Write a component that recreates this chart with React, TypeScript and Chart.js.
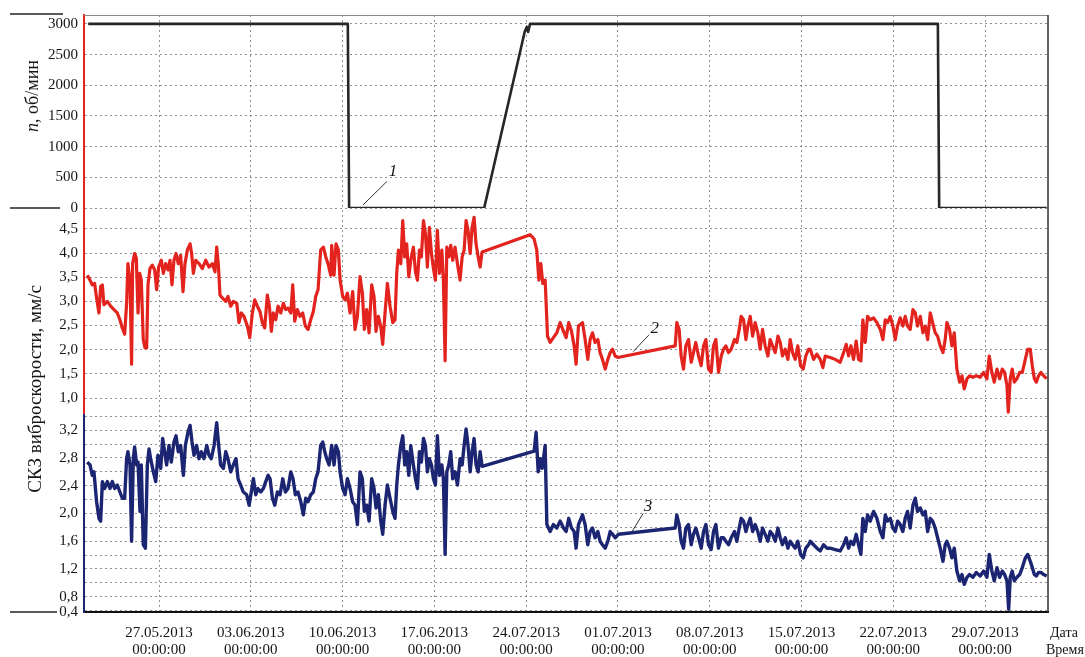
import React, { useEffect, useRef } from 'react';
import { Chart, registerables } from 'chart.js';

Chart.register(...registerables);

const SERIF = '"Liberation Serif", "DejaVu Serif", "Times New Roman", serif';

// ---- X axis (days counted from 27.05.2013 00:00:00) ----
const xMin = -5.72;
const xMax = 67.8;
const weekTicks = [0, 7, 14, 21, 28, 35, 42, 49, 56, 63];
const weekLabels = ['27.05.2013', '03.06.2013', '10.06.2013', '17.06.2013', '24.07.2013', '01.07.2013', '08.07.2013', '15.07.2013', '22.07.2013', '29.07.2013'];
const timeLabel = '00:00:00';

// ---- Y axes ----
const rpmTicks = [0, 500, 1000, 1500, 2000, 2500, 3000];
const redTicks = [1.0, 1.5, 2.0, 2.5, 3.0, 3.5, 4.0, 4.5];
const blueGridTicks = [0.6, 0.8, 1.0, 1.2, 1.4, 1.6, 1.8, 2.0, 2.2, 2.4, 2.6, 2.8, 3.0, 3.2, 3.4];
const blueLabelTicks = [0.8, 1.2, 1.6, 2.0, 2.4, 2.8, 3.2];
const blueBottomLabel = '0,4';

// ---- Series: [day, value] ----
const rpmSeries: [number, number][] = [
  [-5.4, 3000], [14.4, 3000], [14.5, 0], [24.8, 0], [27.9, 2880], [28.05, 2950], [28.15, 2870], [28.3, 3000],
  [59.4, 3000], [59.5, 0], [67.7, 0],
];

const redSeries: [number, number][] = [
  [-5.47, 3.54], [-5.26, 3.44], [-5.09, 3.34], [-4.91, 3.37], [-4.76, 3.07], [-4.58, 2.76], [-4.45, 3.31], [-4.32, 3.34], [-4.20, 2.93], [-3.94, 3.00], [-3.69, 2.90], [-3.43, 2.83], [-3.18, 2.76], [-2.98, 2.62], [-2.80, 2.45], [-2.62, 2.32], [-2.47, 2.96], [-2.37, 3.78], [-2.21, 3.44], [-2.09, 1.70], [-2.01, 3.78], [-1.86, 3.99], [-1.73, 3.89], [-1.60, 2.76], [-1.47, 3.58], [-1.35, 3.44], [-1.20, 2.21], [-1.07, 2.04], [-0.94, 2.04], [-0.84, 3.34], [-0.69, 3.68], [-0.51, 3.75], [-0.33, 3.65], [-0.18, 3.24], [-0.03, 3.71], [0.18, 3.85], [0.33, 3.58], [0.51, 3.78], [0.69, 3.65], [0.84, 3.85], [0.99, 3.34], [1.14, 3.85], [1.30, 3.99], [1.47, 3.78], [1.65, 3.95], [1.83, 3.20], [1.98, 3.78], [2.16, 4.06], [2.37, 4.19], [2.49, 3.99], [2.62, 3.58], [2.80, 3.85], [3.05, 3.78], [3.31, 3.68], [3.56, 3.85], [3.81, 3.71], [4.07, 3.78], [4.27, 3.61], [4.40, 4.12], [4.53, 3.75], [4.65, 3.13], [4.83, 3.07], [5.09, 3.00], [5.26, 3.10], [5.47, 2.90], [5.67, 3.00], [5.93, 2.96], [6.10, 2.56], [6.28, 2.76], [6.48, 2.69], [6.74, 2.49], [6.92, 2.25], [7.12, 2.76], [7.30, 3.03], [7.50, 2.90], [7.70, 2.79], [7.88, 2.56], [8.06, 2.45], [8.26, 3.13], [8.42, 2.90], [8.57, 2.38], [8.72, 2.76], [8.90, 2.62], [9.08, 2.90], [9.28, 2.76], [9.49, 2.96], [9.66, 2.83], [9.84, 2.86], [10.05, 2.76], [10.20, 3.34], [10.35, 2.59], [10.55, 2.83], [10.76, 2.69], [10.96, 2.76], [11.16, 2.49], [11.37, 2.42], [11.57, 2.62], [11.77, 2.79], [11.95, 3.10], [12.13, 3.24], [12.33, 4.06], [12.54, 4.12], [12.71, 3.93], [12.89, 3.78], [13.10, 3.54],
  [13.17, 4.16], [13.35, 3.54], [13.50, 4.19], [13.68, 4.06], [13.81, 3.44], [14.01, 3.10], [14.19, 3.03], [14.37, 3.17], [14.57, 2.76], [14.77, 3.20], [14.95, 2.42], [15.13, 2.69], [15.33, 3.51], [15.51, 3.17], [15.66, 2.42], [15.84, 2.83], [16.02, 2.35], [16.22, 3.34], [16.40, 3.10], [16.55, 2.38], [16.73, 2.69], [16.91, 2.49], [17.06, 2.11], [17.24, 2.76], [17.42, 3.37], [17.62, 2.90], [17.83, 2.56], [18.00, 2.62], [18.13, 3.58], [18.26, 4.06], [18.44, 3.78], [18.59, 4.67], [18.74, 3.92], [18.89, 4.19], [19.05, 3.51], [19.20, 3.85], [19.40, 4.12], [19.56, 3.61], [19.71, 3.44], [19.86, 4.06], [20.01, 3.92], [20.17, 4.67], [20.32, 4.40], [20.47, 3.71], [20.62, 4.53], [20.78, 3.99], [20.93, 3.68], [21.08, 3.44], [21.23, 4.47], [21.39, 3.58], [21.57, 4.06], [21.69, 3.44], [21.82, 1.77], [21.95, 4.12], [22.10, 3.92], [22.25, 4.16], [22.40, 3.85], [22.58, 4.12], [22.76, 3.78], [22.96, 3.44], [23.12, 3.92], [23.27, 4.06], [23.42, 4.67], [23.57, 4.47], [23.73, 3.99], [23.88, 4.53], [24.03, 4.74], [24.18, 4.19], [24.34, 3.92], [24.49, 3.71], [24.64, 4.02], [28.30, 4.38], [28.61, 4.29], [28.81, 4.06], [28.97, 3.44], [29.12, 3.78], [29.27, 3.37], [29.45, 3.44], [29.63, 2.28], [29.83, 2.15], [30.08, 2.25], [30.34, 2.35], [30.59, 2.56], [30.85, 2.38], [31.05, 2.25], [31.25, 2.56], [31.46, 2.38], [31.66, 2.08], [31.81, 1.70], [31.99, 2.49],
  [32.30, 2.56], [32.50, 2.21], [32.70, 1.80], [32.88, 2.21], [33.06, 2.35], [33.26, 2.15], [33.47, 2.21], [33.64, 1.94], [33.82, 1.80], [34.03, 1.60], [34.23, 1.80], [34.41, 1.94], [34.59, 2.01], [34.79, 1.87], [34.99, 1.84], [39.37, 2.08], [39.49, 2.56], [39.67, 2.42], [39.82, 1.87], [40.00, 1.60], [40.18, 2.08], [40.38, 2.21], [40.59, 1.74], [40.76, 1.94], [40.94, 2.15], [41.15, 1.87], [41.35, 1.67], [41.53, 2.08], [41.71, 2.21], [41.91, 1.60], [42.11, 1.53], [42.29, 2.08], [42.47, 2.21], [42.67, 1.53], [42.88, 1.87], [43.05, 2.01], [43.23, 2.08], [43.44, 1.94], [43.64, 2.01], [43.89, 2.21], [44.07, 2.15], [44.25, 2.42], [44.40, 2.69], [44.58, 2.62], [44.76, 2.21], [44.91, 2.49], [45.09, 2.69], [45.27, 2.28], [45.47, 2.56], [45.67, 2.35], [45.85, 2.01], [46.03, 2.42], [46.23, 2.08], [46.44, 1.87], [46.61, 2.21], [46.79, 2.08], [47.00, 1.94], [47.20, 2.28], [47.38, 2.15], [47.55, 1.87], [47.76, 2.01], [47.96, 1.80], [48.14, 2.21], [48.32, 1.94], [48.52, 1.80], [48.72, 2.08], [48.93, 1.67], [49.13, 1.60], [49.33, 1.87], [49.54, 2.01],
  [49.67, 2.01], [49.92, 1.80], [50.17, 1.91], [50.43, 1.80], [50.63, 1.63], [50.81, 1.87], [51.19, 1.84], [51.57, 1.80], [51.95, 1.74], [52.21, 1.94], [52.41, 2.11], [52.59, 1.87], [52.77, 2.08], [52.97, 1.80], [53.17, 2.18], [53.35, 1.80], [53.53, 1.77], [53.68, 2.62], [53.86, 2.15], [54.04, 2.69], [54.24, 2.62], [54.50, 2.66], [54.75, 2.56], [55.01, 2.42], [55.21, 2.21], [55.39, 2.62], [55.56, 2.56], [55.77, 2.69], [55.97, 2.49], [56.15, 2.21], [56.33, 2.49], [56.53, 2.66], [56.73, 2.49], [56.91, 2.69], [57.09, 2.49], [57.29, 2.42], [57.50, 2.83], [57.68, 2.76], [57.85, 2.49], [58.06, 2.69], [58.26, 2.35], [58.44, 2.49], [58.62, 2.21], [58.82, 2.76], [59.00, 2.56], [59.20, 2.35], [59.38, 2.28], [59.58, 2.08], [59.79, 1.94], [59.96, 2.21], [60.09, 2.56], [60.29, 2.42], [60.47, 2.08], [60.65, 2.35], [60.85, 1.60], [61.06, 1.33], [61.24, 1.46], [61.41, 1.19], [61.62, 1.40], [61.82, 1.46], [62.07, 1.43], [62.33, 1.46], [62.63, 1.43], [62.89, 1.53], [63.14, 1.40], [63.32, 1.87], [63.52, 1.53], [63.70, 1.33], [63.91, 1.60], [64.11, 1.40], [64.31, 1.60], [64.49, 1.53], [64.67, 1.26], [64.77, 0.71], [64.92, 1.40], [65.07, 1.60], [65.23, 1.33], [65.43, 1.40], [65.64, 1.53], [65.84, 1.53], [66.07, 1.80], [66.25, 2.01], [66.45, 2.01], [66.60, 1.67], [66.76, 1.40], [66.91, 1.33], [67.08, 1.46], [67.26, 1.53], [67.47, 1.46], [67.70, 1.40],
];

const blueSeries: [number, number][] = [
  [-5.47, 2.74], [-5.26, 2.70], [-5.09, 2.55], [-4.96, 2.60], [-4.76, 2.17], [-4.58, 1.93], [-4.45, 1.89], [-4.32, 2.46], [-4.15, 2.36], [-3.94, 2.46], [-3.74, 2.36], [-3.56, 2.46], [-3.38, 2.36], [-3.18, 2.41], [-2.98, 2.31], [-2.80, 2.22], [-2.62, 2.22], [-2.47, 2.79], [-2.37, 2.89], [-2.21, 2.70], [-2.09, 1.60], [-1.96, 2.79], [-1.86, 2.96], [-1.70, 2.70], [-1.60, 2.74], [-1.45, 2.03], [-1.35, 2.70], [-1.20, 1.55], [-1.04, 1.50], [-0.89, 2.70], [-0.76, 2.93], [-0.64, 2.79], [-0.43, 2.60], [-0.25, 2.46], [-0.08, 2.84], [0.13, 2.65], [0.28, 3.08], [0.43, 2.89], [0.58, 2.70], [0.76, 2.98], [0.94, 2.74], [1.14, 3.03], [1.30, 3.12], [1.47, 2.89], [1.65, 2.98], [1.86, 2.55], [2.01, 2.98], [2.21, 3.17], [2.37, 3.27], [2.52, 3.03], [2.67, 2.84], [2.87, 2.98], [3.05, 2.79], [3.23, 2.89], [3.43, 2.79], [3.64, 2.98], [3.81, 2.84], [3.99, 2.79], [4.20, 2.98], [4.40, 3.31], [4.55, 2.98], [4.70, 2.70], [4.91, 2.65], [5.09, 2.89], [5.26, 2.79], [5.47, 2.60], [5.67, 2.70], [5.87, 2.79], [6.03, 2.50], [6.23, 2.41], [6.43, 2.31], [6.69, 2.27], [6.87, 2.12], [7.04, 2.31], [7.20, 2.50], [7.38, 2.27], [7.55, 2.36], [7.76, 2.31], [7.96, 2.36], [8.14, 2.46], [8.32, 2.55], [8.47, 2.50], [8.65, 2.22], [8.83, 2.12], [9.03, 2.31], [9.23, 2.27], [9.44, 2.50], [9.64, 2.31], [9.84, 2.36], [10.05, 2.60], [10.22, 2.50], [10.40, 2.27], [10.60, 2.31], [10.81, 2.17], [11.01, 1.98], [11.19, 2.22], [11.37, 2.17], [11.57, 2.27], [11.77, 2.31], [11.95, 2.50], [12.13, 2.60], [12.33, 2.98], [12.49, 3.03], [12.64, 2.89], [12.79, 2.79], [12.97, 2.70],
  [13.17, 2.98], [13.35, 2.70], [13.50, 2.98], [13.68, 2.89], [13.81, 2.60], [14.01, 2.36], [14.19, 2.27], [14.37, 2.50], [14.57, 2.36], [14.77, 2.17], [14.95, 2.12], [15.13, 1.84], [15.33, 2.60], [15.51, 2.50], [15.66, 2.03], [15.84, 2.12], [16.02, 1.89], [16.22, 2.50], [16.40, 2.36], [16.55, 2.08], [16.73, 2.27], [16.91, 1.89], [17.06, 1.70], [17.24, 2.12], [17.42, 2.41], [17.62, 2.22], [17.83, 2.03], [18.00, 1.93], [18.13, 2.41], [18.26, 2.70], [18.44, 2.98], [18.59, 3.12], [18.74, 2.70], [18.89, 2.89], [19.05, 2.55], [19.20, 2.98], [19.40, 2.70], [19.56, 2.50], [19.71, 2.36], [19.86, 2.89], [20.01, 2.74], [20.17, 3.08], [20.32, 2.98], [20.47, 2.60], [20.62, 2.79], [20.78, 2.70], [20.93, 2.50], [21.08, 2.41], [21.23, 3.12], [21.39, 2.55], [21.57, 2.70], [21.69, 2.50], [21.82, 1.41], [21.95, 2.60], [22.10, 2.70], [22.25, 2.89], [22.40, 2.50], [22.58, 2.60], [22.76, 2.41], [22.96, 2.79], [23.12, 2.70], [23.27, 2.98], [23.42, 3.22], [23.57, 2.98], [23.73, 2.60], [23.88, 2.89], [24.03, 3.08], [24.18, 2.70], [24.34, 2.60], [24.49, 2.89], [24.64, 2.68], [28.61, 2.90], [28.76, 3.17], [28.92, 2.60], [29.07, 2.79], [29.22, 2.65], [29.45, 2.98], [29.58, 1.84], [29.83, 1.74], [30.08, 1.84], [30.34, 1.79], [30.59, 1.89], [30.85, 1.79], [31.05, 1.74], [31.25, 1.93], [31.46, 1.79], [31.66, 1.74], [31.81, 1.50], [31.99, 1.84],
  [32.30, 1.98], [32.50, 1.84], [32.70, 1.55], [32.88, 1.74], [33.06, 1.79], [33.26, 1.65], [33.47, 1.74], [33.64, 1.60], [33.82, 1.55], [34.03, 1.50], [34.23, 1.60], [34.41, 1.74], [34.59, 1.70], [34.79, 1.65], [35.04, 1.70], [39.37, 1.79], [39.49, 1.98], [39.67, 1.84], [39.82, 1.60], [40.00, 1.50], [40.18, 1.79], [40.38, 1.84], [40.59, 1.55], [40.76, 1.70], [40.94, 1.79], [41.15, 1.65], [41.35, 1.50], [41.53, 1.74], [41.71, 1.84], [41.91, 1.55], [42.11, 1.48], [42.29, 1.74], [42.47, 1.84], [42.67, 1.50], [42.88, 1.65], [43.05, 1.65], [43.23, 1.60], [43.44, 1.55], [43.64, 1.65], [43.89, 1.74], [44.07, 1.60], [44.25, 1.79], [44.40, 1.93], [44.58, 1.89], [44.76, 1.74], [44.91, 1.84], [45.09, 1.93], [45.27, 1.74], [45.47, 1.84], [45.67, 1.74], [45.85, 1.60], [46.03, 1.79], [46.23, 1.70], [46.44, 1.60], [46.61, 1.74], [46.79, 1.70], [47.00, 1.60], [47.20, 1.79], [47.38, 1.65], [47.55, 1.55], [47.76, 1.65], [47.96, 1.50], [48.14, 1.60], [48.32, 1.55], [48.52, 1.50], [48.72, 1.60], [48.93, 1.41], [49.13, 1.36], [49.33, 1.50], [49.54, 1.55],
  [49.67, 1.60], [49.92, 1.55], [50.17, 1.50], [50.43, 1.46], [50.68, 1.55], [50.94, 1.50], [51.19, 1.50], [51.57, 1.48], [51.95, 1.46], [52.21, 1.55], [52.41, 1.65], [52.59, 1.50], [52.77, 1.60], [52.97, 1.55], [53.17, 1.70], [53.35, 1.55], [53.53, 1.41], [53.68, 1.93], [53.86, 1.74], [54.04, 1.98], [54.24, 1.89], [54.50, 2.03], [54.75, 1.93], [55.01, 1.74], [55.21, 1.65], [55.39, 1.98], [55.56, 1.89], [55.77, 1.93], [55.97, 1.79], [56.15, 1.74], [56.33, 1.89], [56.53, 1.84], [56.73, 1.74], [56.91, 1.93], [57.09, 2.03], [57.29, 1.79], [57.50, 2.12], [57.68, 2.22], [57.85, 2.03], [58.06, 2.08], [58.26, 1.98], [58.44, 2.03], [58.62, 1.74], [58.82, 1.93], [59.00, 1.89], [59.20, 1.79], [59.38, 1.65], [59.58, 1.50], [59.79, 1.31], [59.96, 1.55], [60.09, 1.60], [60.29, 1.50], [60.47, 1.36], [60.65, 1.50], [60.85, 1.17], [61.06, 1.03], [61.24, 1.12], [61.41, 0.98], [61.62, 1.08], [61.82, 1.12], [62.07, 1.08], [62.33, 1.15], [62.63, 1.10], [62.89, 1.17], [63.14, 1.08], [63.32, 1.41], [63.52, 1.17], [63.70, 1.03], [63.91, 1.22], [64.11, 1.08], [64.31, 1.17], [64.49, 1.12], [64.67, 1.03], [64.80, 0.62], [64.92, 1.08], [65.07, 1.17], [65.23, 1.03], [65.43, 1.08], [65.64, 1.12], [65.84, 1.22], [66.07, 1.36], [66.25, 1.41], [66.45, 1.31], [66.60, 1.22], [66.76, 1.12], [66.91, 1.10], [67.08, 1.15], [67.26, 1.15], [67.47, 1.12], [67.70, 1.10],
];

// Numbered callouts (data coordinates of the leader line and label)
const callouts = [
  { axis: 'yN', label: '1', from: [15.56, 50], to: [17.39, 435], at: [17.85, 600] },
  { axis: 'yR', label: '2', from: [36.16, 1.96], to: [37.38, 2.31], at: [37.8, 2.44] },
  { axis: 'yB', label: '3', from: [36.08, 1.74], to: [36.92, 2.0], at: [37.3, 2.1] },
];

const RED = '#e3231d';
const BLUE = '#1c2572';
const BLACK = '#262626';
const GRID = 'rgba(110,110,110,0.75)';
const TEXT = '#151515';

const fmt = (v: number) => v.toFixed(1).replace('.', ',');
const toXY = (s: [number, number][]) => s.map(([x, y]) => ({ x, y }));

const decorPlugin = {
  id: 'decor',
  afterDraw(chart: any) {
    const { ctx, chartArea: ca, scales } = chart;
    const { x, yN, yB } = scales;
    ctx.save();
    // frame: top and right
    ctx.strokeStyle = '#8a8a8a';
    ctx.lineWidth = 1;
    ctx.beginPath();
    ctx.moveTo(ca.left, ca.top + 0.5);
    ctx.lineTo(ca.right, ca.top + 0.5);
    ctx.stroke();
    ctx.strokeStyle = '#333';
    ctx.lineWidth = 1.5;
    ctx.beginPath();
    ctx.moveTo(ca.right, ca.top);
    ctx.lineTo(ca.right, ca.bottom);
    ctx.stroke();

    // left separator dashes
    ctx.strokeStyle = '#222';
    ctx.lineWidth = 1.5;
    const seps = [[yN.top - 1, 63], [yN.bottom, 60], [yB.bottom, 57]];
    seps.forEach(([yy, x2]) => {
      ctx.beginPath();
      ctx.moveTo(10, yy);
      ctx.lineTo(x2, yy);
      ctx.stroke();
    });

    // rotated axis titles
    const drawRot = (cx: number, cy: number, parts: { t: string; f: string }[]) => {
      ctx.save();
      ctx.translate(cx, cy);
      ctx.rotate(-Math.PI / 2);
      ctx.fillStyle = TEXT;
      ctx.textBaseline = 'middle';
      ctx.textAlign = 'left';
      const ws = parts.map((p) => {
        ctx.font = p.f;
        return ctx.measureText(p.t).width;
      });
      let px = -ws.reduce((a, b) => a + b, 0) / 2;
      parts.forEach((p, i) => {
        ctx.font = p.f;
        ctx.fillText(p.t, px, 0);
        px += ws[i];
      });
      ctx.restore();
    };
    drawRot(33, 96, [
      { t: 'n', f: `italic 18px ${SERIF}` },
      { t: ', об/мин', f: `18px ${SERIF}` },
    ]);
    drawRot(36, 389, [{ t: 'СКЗ виброскорости, мм/с', f: `19px ${SERIF}` }]);

    // Дата / Время
    ctx.fillStyle = TEXT;
    ctx.font = `14px ${SERIF}`;
    ctx.textAlign = 'left';
    ctx.textBaseline = 'middle';
    ctx.fillText('Дата', 1050, 633);
    ctx.fillText('Время', 1046, 650);

    // callouts
    callouts.forEach((c) => {
      const sc = scales[c.axis];
      const x1 = x.getPixelForValue(c.from[0]);
      const y1 = sc.getPixelForValue(c.from[1]);
      const x2 = x.getPixelForValue(c.to[0]);
      const y2 = sc.getPixelForValue(c.to[1]);
      ctx.strokeStyle = '#333';
      ctx.lineWidth = 1;
      ctx.beginPath();
      ctx.moveTo(x1, y1);
      ctx.lineTo(x2, y2);
      ctx.stroke();
      ctx.font = `italic 17px ${SERIF}`;
      ctx.fillStyle = TEXT;
      ctx.textAlign = 'center';
      ctx.textBaseline = 'middle';
      ctx.fillText(c.label, x.getPixelForValue(c.at[0]), sc.getPixelForValue(c.at[1]));
    });
    ctx.restore();
  },
};

const tickFont = { family: SERIF, size: 15 };

export default function App() {
  const ref = useRef<HTMLCanvasElement>(null);
  useEffect(() => {
    if (!ref.current) return;
    const chart = new Chart(ref.current, {
      type: 'line',
      data: {
        datasets: [
          { data: toXY(rpmSeries), yAxisID: 'yN', borderColor: BLACK, borderWidth: 2.6, pointRadius: 0, tension: 0, borderJoinStyle: 'round' },
          { data: toXY(redSeries), yAxisID: 'yR', borderColor: RED, borderWidth: 3.2, pointRadius: 0, tension: 0, borderJoinStyle: 'round' },
          { data: toXY(blueSeries), yAxisID: 'yB', borderColor: BLUE, borderWidth: 3.4, pointRadius: 0, tension: 0, borderJoinStyle: 'round' },
        ] as any,
      },
      plugins: [decorPlugin],
      options: {
        animation: false,
        responsive: false,
        devicePixelRatio: 1,
        layout: { padding: { top: 9, right: 37, left: 0, bottom: 0 } },
        plugins: { legend: { display: false }, tooltip: { enabled: false } },
        scales: {
          x: {
            type: 'linear',
            min: xMin,
            max: xMax,
            afterBuildTicks: (s: any) => { s.ticks = weekTicks.map((v) => ({ value: v })); },
            afterFit: (s: any) => { s.height = 45; },
            ticks: {
              autoSkip: false,
              maxRotation: 0,
              padding: 12,
              color: TEXT,
              font: { ...tickFont, lineHeight: 1.15 },
              callback: (_v: any, i: number) => [weekLabels[i], timeLabel],
            },
            grid: { color: GRID, lineWidth: 1, drawTicks: false },
            border: { color: '#111', width: 2, dash: [2, 3] },
          },
          yN: {
            type: 'linear',
            position: 'left',
            stack: 'panels',
            stackWeight: 195,
            weight: 3,
            min: 0,
            max: 3145,
            afterBuildTicks: (s: any) => { s.ticks = rpmTicks.map((v) => ({ value: v })); },
            afterFit: (s: any) => { s.width = 84; },
            ticks: { autoSkip: false, color: TEXT, font: tickFont, padding: 6, callback: (v: any) => String(v) },
            grid: { color: GRID, lineWidth: 1, drawTicks: false },
            border: { color: RED, width: 2, dash: [2, 3] },
          },
          yR: {
            type: 'linear',
            position: 'left',
            stack: 'panels',
            stackWeight: 209,
            weight: 2,
            min: 0.65,
            max: 4.93,
            afterBuildTicks: (s: any) => { s.ticks = redTicks.map((v) => ({ value: v })); },
            afterFit: (s: any) => { s.width = 84; },
            ticks: { autoSkip: false, color: TEXT, font: tickFont, padding: 6, callback: (v: any) => fmt(Number(v)) },
            grid: { color: GRID, lineWidth: 1, drawTicks: false },
            border: { color: RED, width: 2, dash: [2, 3] },
          },
          yB: {
            type: 'linear',
            position: 'left',
            stack: 'panels',
            stackWeight: 199,
            weight: 1,
            min: 0.58,
            max: 3.42,
            afterBuildTicks: (s: any) => {
              s.ticks = [{ value: 0.58 }, ...blueGridTicks.map((v) => ({ value: v }))];
            },
            afterFit: (s: any) => { s.width = 84; },
            ticks: {
              color: TEXT,
              font: tickFont,
              padding: 6,
              autoSkip: false,
              callback: (v: any) => {
                const n = Number(v);
                if (Math.abs(n - 0.58) < 1e-6) return blueBottomLabel;
                return blueLabelTicks.some((t) => Math.abs(t - n) < 1e-6) ? fmt(n) : '';
              },
            },
            grid: { color: GRID, lineWidth: 1, drawTicks: false },
            border: { color: BLUE, width: 2, dash: [2, 3] },
          },
        } as any,
      },
    });
    return () => chart.destroy();
  }, []);

  return (
    <div style={{ position: 'fixed', left: 0, top: 0, width: 1085, height: 657, background: '#fff' }}>
      <canvas ref={ref} width={1085} height={657} style={{ width: 1085, height: 657, display: 'block' }} />
    </div>
  );
}
